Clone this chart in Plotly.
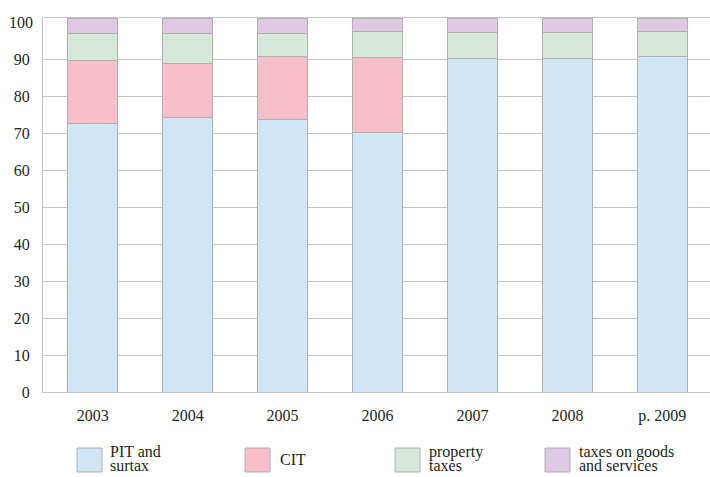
import plotly.graph_objects as go

years = ["2003", "2004", "2005", "2006", "2007", "2008", "p. 2009"]
series_names = ["PIT and surtax", "CIT", "property taxes", "taxes on goods and services"]
legend_lines = [["PIT and", "surtax"], ["CIT"], ["property", "taxes"], ["taxes on goods", "and services"]]
pit = [72.7, 74.2, 73.6, 70.2, 90.2, 90.2, 90.6]
cit = [16.8, 14.7, 17.2, 20.2, None, None, None]
prop = [7.4, 8.0, 6.1, 7.0, 7.1, 7.0, 6.8]
goods = [4.2, 4.1, 4.2, 3.7, 3.8, 3.9, 3.7]
y_ticks = [0, 10, 20, 30, 40, 50, 60, 70, 80, 90]
y_top_tick = [100]

colors = ["#d0e6f7", "#f8beca", "#d6e8da", "#dec8e2"]
edge = "#b0b0b0"
grid = "#c4c4c4"
txt = "#231f20"
FONT = "Liberation Serif, Times New Roman, DejaVu Serif, serif"

W, H = 710, 477
ML, MR, MT, MB = 43, 0, 18, 85
PW, PH = W - ML - MR, H - MT - MB
Y_MAX = 101.1

fig = go.Figure()
for name, vals, col in zip(series_names, [pit, cit, prop, goods], colors):
    fig.add_bar(x=years, y=vals, name=name,
                marker=dict(color=col, line=dict(color=edge, width=1)),
                showlegend=False)

# invisible trace anchoring the second y axis (carries only the top "100" label)
fig.add_scatter(x=[years[0]], y=[0], yaxis="y2", mode="markers",
                marker=dict(opacity=0), showlegend=False, hoverinfo="skip")

def px2x(px):
    return (px - ML) / PW

def px2y(py):
    return (H - MB - py) / PH

shapes = []
annotations = []
box_x = [77, 245, 395, 545]
text_x = [109, 279, 428, 578]
for i, (col, lines) in enumerate(zip(colors, legend_lines)):
    shapes.append(dict(type="rect", xref="paper", yref="paper",
                       x0=px2x(box_x[i]), x1=px2x(box_x[i] + 25),
                       y0=px2y(472), y1=px2y(448),
                       fillcolor=col, line=dict(color=edge, width=1)))
    if len(lines) == 1:
        centers = [459.6]
    else:
        centers = [451.5, 465.5]
    for line, cy in zip(lines, centers):
        annotations.append(dict(text=line, xref="paper", yref="paper",
                                x=px2x(text_x[i]), y=px2y(cy),
                                xanchor="left", yanchor="middle",
                                showarrow=False, borderpad=0,
                                font=dict(family=FONT, size=16, color=txt)))

fig.update_layout(
    width=W, height=H,
    margin=dict(l=ML, r=MR, t=MT, b=MB),
    barmode="stack", bargap=0.473,
    plot_bgcolor="white", paper_bgcolor="white",
    font=dict(family=FONT, size=16, color=txt),
    shapes=shapes, annotations=annotations,
    xaxis=dict(range=[-0.524, 6.502], showline=True, mirror=True,
               linecolor=grid, linewidth=1, showgrid=False, zeroline=False,
               ticks="", ticklabelstandoff=9,
               tickfont=dict(family=FONT, size=16, color=txt)),
    yaxis=dict(range=[0, Y_MAX], tickvals=y_ticks, showgrid=True,
               gridcolor=grid, gridwidth=1, showline=True, linecolor=grid,
               linewidth=1, zeroline=False, ticks="", ticklabelstandoff=9,
               tickfont=dict(family=FONT, size=16, color=txt)),
    yaxis2=dict(range=[0, Y_MAX], tickvals=y_top_tick, overlaying="y",
                side="left", showgrid=False, showline=False, zeroline=False,
                ticks="", ticklabelstandoff=9,
                tickfont=dict(family=FONT, size=16, color=txt)),
)

fig.write_html("out.html", config={"displayModeBar": False},
               post_script="document.body.style.margin='0';")
